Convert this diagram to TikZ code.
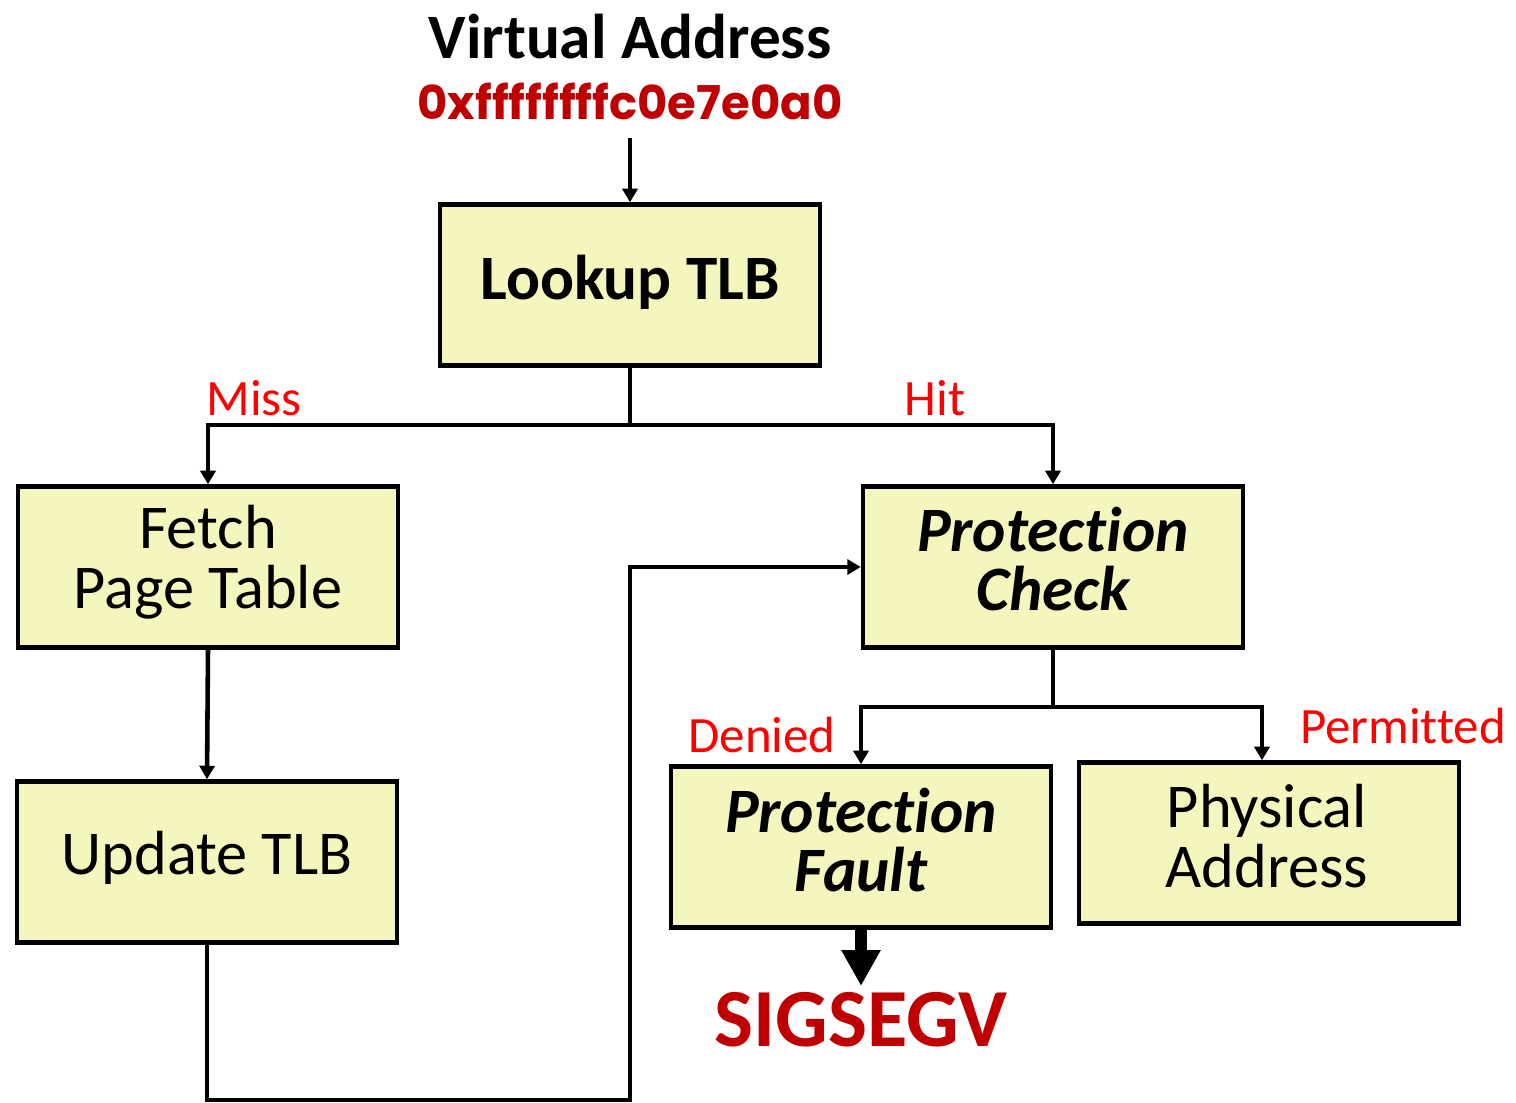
\documentclass[tikz,border=0pt]{standalone}
\usepackage{fontspec}
\setmainfont{Carlito}[Ligatures=NoCommon]
\newfontfamily\hexfont{Poppins}
\usetikzlibrary{arrows.meta}
\definecolor{boxfill}{RGB}{245,245,190}
\definecolor{darkred}{RGB}{192,0,0}
\definecolor{lblred}{RGB}{255,0,0}
\begin{document}
\begin{tikzpicture}[x=0.02cm, y=-0.02cm,
  stepbox/.style={draw, line width=2.6pt, fill=boxfill, minimum width=7.6cm, minimum height=3.22cm,
    inner sep=0pt},
  boxtext/.style={inner sep=0pt, align=center},
  conn/.style={line width=2.6pt, -{Triangle[length=0.27cm, width=0.3cm]}},
  plain/.style={line width=2.6pt},
  lbl/.style={text=lblred, font=\fontsize{29}{30}\selectfont, inner sep=0pt}]
\useasboundingbox (0,0) rectangle (1516,1103);

% title and address
\node[font=\fontsize{36}{36}\selectfont\bfseries, inner sep=0pt] (title) at (630,37) {Virtual Address};
\node[font=\hexfont\fontsize{26.5}{28}\selectfont\bfseries, text=darkred, inner sep=0pt] (addr) at (630,101) {0xffffffffc0e7e0a0};

% boxes
\node[stepbox] (lookup) at (630,285) {};
\node[stepbox] (fetch) at (208,567) {};
\node[stepbox] (update) at (207,862) {};
\node[stepbox] (check) at (1053,567) {};
\node[stepbox] (fault) at (861,847) {};
\node[stepbox] (phys) at (1269,843) {};

% box texts
\node[boxtext, font=\fontsize{36}{34}\selectfont\bfseries] (lookupT) at (630,282) {Lookup TLB};
\node[boxtext, font=\fontsize{35.5}{34}\selectfont] (fetchT) at (208,562) {Fetch\\Page Table};
\node[boxtext, font=\fontsize{35.5}{34}\selectfont] (updateT) at (207,858) {Update TLB};
\node[boxtext, font=\fontsize{36}{34}\selectfont\bfseries\itshape] (checkT) at (1053,559) {Protection\\Check};
\node[boxtext, font=\fontsize{36}{34}\selectfont\bfseries\itshape] (faultT) at (861,840) {Protection\\Fault};
\node[boxtext, font=\fontsize{35.5}{34}\selectfont] (physT) at (1267,836) {Physical\\Address};

\node[font=\fontsize{47}{47}\selectfont\bfseries, text=darkred, inner sep=0pt] (sig) at (861,1020) {SIGSEGV};

% branch labels
\node[lbl] (miss) at (254,398) {Miss};
\node[lbl] (hit) at (935,398) {Hit};
\node[lbl] (denied) at (762,735) {Denied};
\node[lbl] (permitted) at (1403,726) {Permitted};

% junction points
\coordinate (jl) at (630,425);
\coordinate (jc) at (1053,707);

% connectors
\draw[conn] (630,138) -- (lookup.north);
\draw[plain] (lookup.south) -- (jl);
\draw[conn] (jl) -| (fetch.north);
\draw[conn] (jl) -| (check.north);
\draw[conn] (fetch.south) -- (update.north);
\draw[conn] (update.south) |- (630,1100) |- (check.west);
\draw[plain] (check.south) -- (jc);
\draw[conn] (jc) -| (fault.north);
\draw[conn] (jc) -| ([xshift=-4]phys.north);
\draw[line width=6.8pt, -{Triangle[length=0.72cm, width=0.74cm]}] (fault.south) -- (861,986);
\end{tikzpicture}
\end{document}
